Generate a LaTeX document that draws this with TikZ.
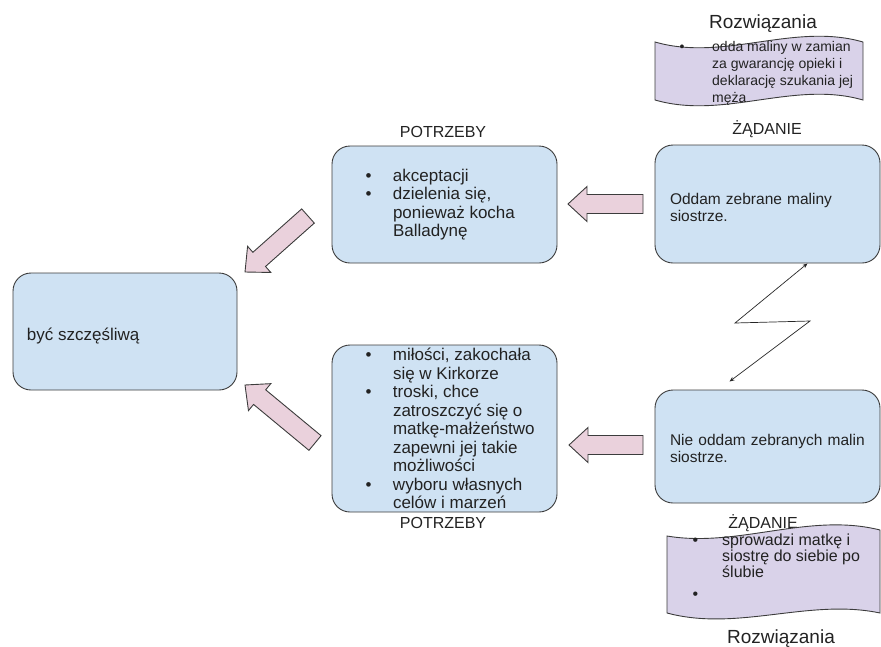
\documentclass[tikz,border=0pt]{standalone}
\usepackage{fontspec}
\setmainfont{Liberation Sans}
\usetikzlibrary{calc,arrows.meta}
\definecolor{boxblue}{HTML}{CFE2F3}
\definecolor{arrowpink}{HTML}{EAD1DC}
\definecolor{wavepurple}{HTML}{D9D2E9}
\definecolor{edge}{HTML}{3C3C3C}
\definecolor{ink}{HTML}{222222}
\newcommand{\pkt}[1][27.5pt]{\makebox[#1][l]{\textbullet}}
\newcommand{\dalej}[1][27.5pt]{\hspace*{#1}}
\newcommand{\blockarr}[2]{%
  \coordinate (hb) at ($(#2)!19pt!(#1)$);
  \filldraw[blockarrow] ($(#1)!9.5pt!90:(#2)$) -- ($(hb)!9.5pt!90:(#2)$) -- ($(hb)!17.5pt!90:(#2)$) -- (#2)
    -- ($(hb)!17.5pt!-90:(#2)$) -- ($(hb)!9.5pt!-90:(#2)$) -- ($(#1)!9.5pt!-90:(#2)$) -- cycle;}

\begin{document}
\begin{tikzpicture}[x=1pt,y=-1pt,
  box/.style={draw=edge, fill=boxblue, line width=0.9pt, rounded corners=18pt, inner sep=0pt, text=ink},
  wave/.style={draw=edge, fill=wavepurple, line width=0.9pt},
  blockarrow/.style={draw=edge, fill=arrowpink, line width=0.9pt, line join=miter},
  lbl/.style={inner sep=0pt, text=ink, font=\fontsize{16}{18}\selectfont},
  big/.style={font=\fontsize{17}{18.5}\selectfont},
  zig/.style={draw=black!85, line width=0.7pt, {Stealth[length=5pt,width=4pt]}-{Stealth[length=5pt,width=4pt]}}]
\useasboundingbox (0,0) rectangle (881,646);
\node[box, big, minimum width=224pt, minimum height=117pt] (cel) at (125,331.5)
  {\makebox[196pt][l]{\raisebox{-5pt}[\height][\depth]{być szczęśliwą}}};
\node[box, big, minimum width=225pt, minimum height=117pt] (potrzA) at (444.5,204.5)
  {\makebox[158pt][l]{\parbox[c]{200pt}{\pkt akceptacji\\
  \pkt dzielenia się,\\
  \dalej ponieważ kocha\\
  \dalej Balladynę}}};
\node[box, big, minimum width=225pt, minimum height=167pt] (potrzB) at (444.5,428.5)
  {\makebox[158pt][l]{\parbox[c]{200pt}{\pkt miłości, zakochała\\
  \dalej się w Kirkorze\\
  \pkt troski, chce\\
  \dalej zatroszczyć się o\\
  \dalej matkę-małżeństwo\\
  \dalej zapewni jej takie\\
  \dalej możliwości\\
  \pkt wyboru własnych\\
  \dalej celów i marzeń}}};
\node[box, minimum width=225pt, minimum height=118pt, text width=195pt, align=left, font=\fontsize{15.5}{17}\selectfont] (zadA) at (767.5,204)
  {\raisebox{-3pt}[\height][\depth]{Oddam zebrane maliny}\\\raisebox{-3pt}[\height][\depth]{siostrze.}};
\node[box, minimum width=225pt, minimum height=113pt, text width=195pt, align=left, font=\fontsize{15.5}{17}\selectfont] (zadB) at (767.5,446.5)
  {\raisebox{-2pt}[\height][\depth]{Nie oddam zebranych malin}\\\raisebox{-2pt}[\height][\depth]{siostrze.}};
\node[lbl, anchor=base] (potrzAlbl) at (443,137) {POTRZEBY};
\node[lbl, anchor=base] (zadAlbl) at (767,134.5) {ŻĄDANIE};
\node[lbl, anchor=base] (potrzBlbl) at (443,528) {POTRZEBY};
\node[lbl, anchor=base] (zadBlbl) at (763,528) {ŻĄDANIE};
\node[lbl, anchor=base, font=\fontsize{19}{22}\selectfont] (rozwAlbl) at (763,28.5) {Rozwiązania};
\node[lbl, anchor=base, font=\fontsize{19}{22}\selectfont] (rozwBlbl) at (781,643) {Rozwiązania};
\draw[wave] (655,42) .. controls (724,62) and (794,22) .. (863,42) -- (863,100)
  .. controls (794,80) and (724,120) .. (655,100) -- cycle;
\draw[wave] (667,536) .. controls (738,548) and (809,512) .. (880,530) -- (880,613)
  .. controls (809,598) and (738,632) .. (667,613) -- cycle;
\node[lbl, anchor=base west, font=\fontsize{14}{17}\selectfont] (rozwA) at (679.5,51)
  {\parbox[t]{190pt}{\pkt[32.5pt]odda maliny w zamian\\
  \dalej[32.5pt]za gwarancję opieki i\\
  \dalej[32.5pt]deklarację szukania jej\\
  \dalej[32.5pt]męża}};
\node[lbl, anchor=base west, font=\fontsize{16}{16}\selectfont] (rozwB) at (692.5,545)
  {\parbox[t]{190pt}{\pkt[29.5pt]sprowadzi matkę i\\
  \dalej[29.5pt]siostrę do siebie po\\
  \dalej[29.5pt]ślubie\\[6pt]
  \pkt[29.5pt]}};
\coordinate (aA1) at (643,204);
\coordinate (aA2) at (568,204);
\coordinate (aB1) at (643,445);
\coordinate (aB2) at (569,445);
\coordinate (aC1) at (308,216);
\coordinate (aC2) at (245,272);
\coordinate (aD1) at (315,443);
\coordinate (aD2) at (245,385);
\blockarr{aA1}{aA2}
\blockarr{aB1}{aB2}
\blockarr{aC1}{aC2}
\blockarr{aD1}{aD2}
\coordinate (zigA) at (735,323);
\coordinate (zigB) at (810,321);
\draw[zig] ([xshift=40pt]zadA.south) -- (zigA) -- (zigB) -- ([xshift=-38pt,yshift=8pt]zadB.north);
\end{tikzpicture}
\end{document}
